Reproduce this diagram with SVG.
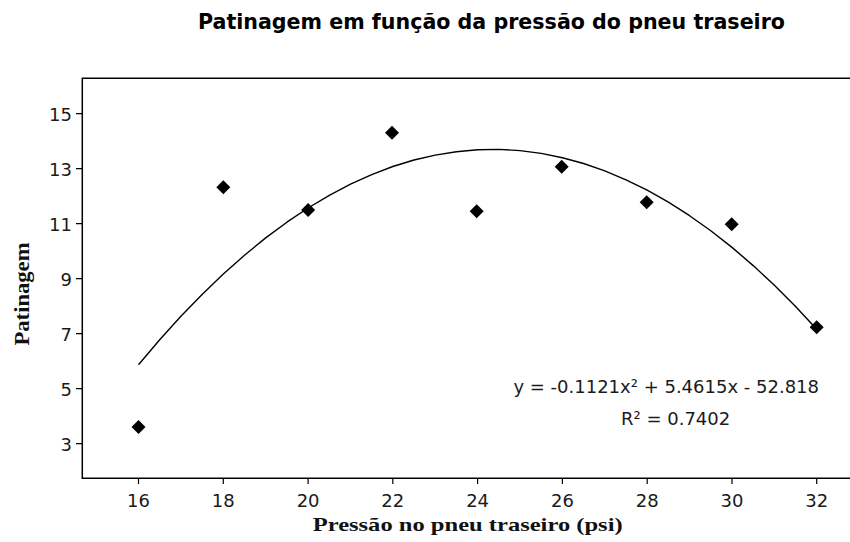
<svg xmlns="http://www.w3.org/2000/svg" width="850" height="542" viewBox="0 0 850 542">
<style>
.tick{font-family:"DejaVu Sans",Verdana,sans-serif;font-size:18px;fill:#1a1a1a}
.ax{stroke:#000;stroke-width:1.5;fill:none}
.tk{stroke:#000;stroke-width:1.2}
.lbl{font-family:"Liberation Serif","Times New Roman",serif;font-weight:bold;fill:#111}
.eq{font-family:"DejaVu Sans",Verdana,sans-serif;font-size:18px;fill:#1a1a1a}
</style>
<defs>
<path id="dm" d="M0,-7 L7,0 L0,7 L-7,0 Z" fill="#000"/>
</defs>
<rect width="850" height="542" fill="#fff"/>
<g id="title">
<text x="198" y="29" font-family="'DejaVu Sans Condensed','DejaVu Sans',Verdana,sans-serif" font-weight="bold" font-size="22" fill="#000" textLength="587" lengthAdjust="spacingAndGlyphs">Patinagem em função da pressão do pneu traseiro</text>
</g>
<g id="axes">
<path class="ax" d="M852,78.3 H82.3 V478.3 H852"/>
<g class="tk">
<path d="M76,113.7H82.3M76,168.7H82.3M76,223.7H82.3M76,278.7H82.3M76,333.7H82.3M76,388.7H82.3M76,443.7H82.3"/>
<path d="M138.5,478.3V484M223.3,478.3V484M308.1,478.3V484M392.8,478.3V484M477.6,478.3V484M562.4,478.3V484M647.2,478.3V484M732,478.3V484M816.7,478.3V484"/>
</g>
</g>
<g id="ylabels" class="tick" text-anchor="end">
<text x="72" y="120.5">15</text>
<text x="72" y="175.5">13</text>
<text x="72" y="230.5">11</text>
<text x="72" y="285.5">9</text>
<text x="72" y="340.5">7</text>
<text x="72" y="395.5">5</text>
<text x="72" y="450.5">3</text>
</g>
<g id="xlabels" class="tick" text-anchor="middle">
<text x="138.5" y="507">16</text>
<text x="223.3" y="507">18</text>
<text x="308.1" y="507">20</text>
<text x="392.8" y="507">22</text>
<text x="477.6" y="507">24</text>
<text x="562.4" y="507">26</text>
<text x="647.2" y="507">28</text>
<text x="732" y="507">30</text>
<text x="816.7" y="507">32</text>
</g>
<g id="axis-titles">
<text class="lbl" x="312.7" y="531" font-size="19.5" textLength="310" lengthAdjust="spacingAndGlyphs">Pressão no pneu traseiro (psi)</text>
<text class="lbl" transform="translate(28.5,294) rotate(-90)" x="0" y="0" text-anchor="middle" font-size="21" textLength="103" lengthAdjust="spacingAndGlyphs">Patinagem</text>
</g>
<g id="connectors">
<polyline fill="none" stroke="#000" stroke-width="1.4" stroke-linejoin="round" points="138.5,364.8 159.7,339.8 180.9,316.3 202.1,294.5 223.3,274.1 244.5,255.2 265.7,237.9 286.9,222.2 308.1,208.0 329.3,195.3 350.5,184.2 371.7,174.6 392.8,166.5 414.0,160.0 435.2,155.1 456.4,151.7 477.6,149.8 498.8,149.4 520.0,150.6 541.2,153.4 562.4,157.7 583.6,163.5 604.8,170.8 626.0,179.8 647.2,190.2 668.4,202.2 689.6,215.7 710.8,230.8 732.0,247.4 753.2,265.6 774.4,285.3 795.6,306.5 816.7,329.3"/>
</g>
<g id="points">
<use href="#dm" x="138.5" y="427"/>
<use href="#dm" x="223.3" y="187.3"/>
<use href="#dm" x="308.1" y="210"/>
<use href="#dm" x="392" y="132.7"/>
<use href="#dm" x="476.7" y="211.3"/>
<use href="#dm" x="561.7" y="166.7"/>
<use href="#dm" x="646.7" y="202.3"/>
<use href="#dm" x="731.7" y="224.3"/>
<use href="#dm" x="816.7" y="327.3"/>
</g>
<g id="equation" class="eq">
<text x="819" y="393.3" text-anchor="end">y = -0.1121x² + 5.4615x - 52.818</text>
<text x="621" y="425">R² = 0.7402</text>
</g>
</svg>
